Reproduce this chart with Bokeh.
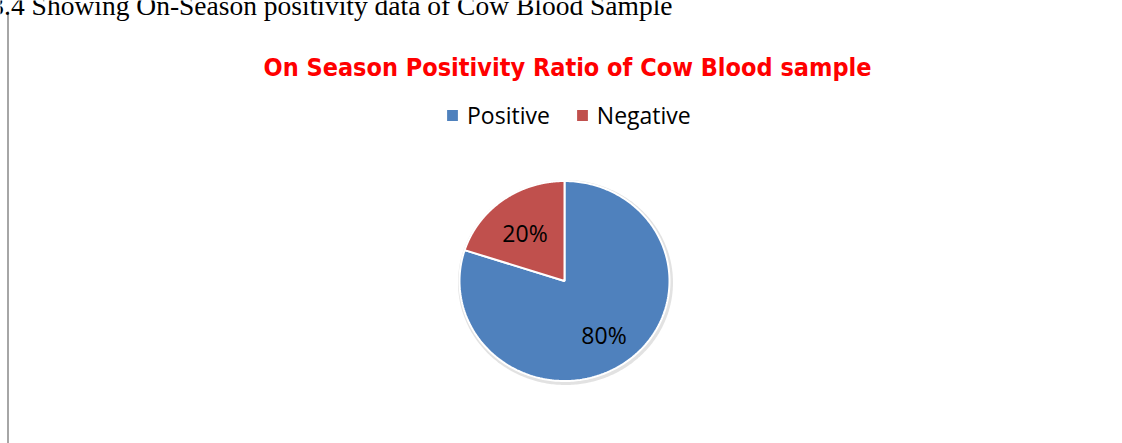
import numpy as np
from bokeh.plotting import figure
from bokeh.models import Range1d, Legend, LegendItem, ColumnDataSource, Label
from bokeh.core.properties import value
from bokeh.embed import file_html
from bokeh.resources import INLINE

# ---- data ----
categories = ["Positive", "Negative"]
percent = [80, 20]
colors = ["#4F81BD", "#C0504D"]
title_text = "On Season Positivity Ratio of Cow Blood sample"
caption_text = "Table 3.4 Showing On-Season positivity data of Cow Blood Sample"

W, H = 1122, 443
p = figure(width=W, height=H, x_range=Range1d(0, W), y_range=Range1d(0, H),
           x_axis_type=None, y_axis_type=None, toolbar_location=None,
           output_backend="svg", min_border=0)
p.grid.visible = False
p.outline_line_color = None
p.background_fill_color = "white"
p.border_fill_color = "white"

# page edge line and caption (cut at the top edge as in the reference)
p.segment(x0=[7.5], y0=[0], x1=[7.5], y1=[H - 11], line_color="#a6a6a6", line_width=2)
p.add_layout(Label(x=672, y=H - 5, text=caption_text, text_align="right",
                   text_baseline="alphabetic", text_font="Liberation Serif",
                   text_font_size="27.5px", text_color="black"))

# title
p.add_layout(Label(x=567, y=H - 67, text=title_text, text_align="center",
                   text_baseline="alphabetic", text_font="DejaVu Sans Condensed",
                   text_font_style="bold", text_font_size="25px", text_color="#FF0000"))

# pie geometry (slightly elliptical like the reference)
cx, cy, rx, ry = 564.0, H - 280.5, 105.0, 100.0
fr = np.array(percent, dtype=float) / sum(percent)
ends = np.pi / 2 - 2 * np.pi * np.cumsum(fr)
starts = ends + 2 * np.pi * fr

# shadow
t = np.linspace(0, 2 * np.pi, 400)
p.patch(cx + 1 + (rx + 2.5) * np.cos(t), cy - 1.5 + (ry + 2.5) * np.sin(t),
        fill_color="#cfcfcf", fill_alpha=0.6, line_color=None)

items = []
for cat, col, s, e in zip(categories, colors, starts, ends):
    a = np.linspace(s, e, 300)
    xs = np.concatenate([[cx], cx + rx * np.cos(a), [cx]])
    ys = np.concatenate([[cy], cy + ry * np.sin(a), [cy]])
    r = p.patch(xs, ys, fill_color=col, line_color="white", line_width=2)
    items.append(LegendItem(label=cat, renderers=[r]))

# labels
mids = (starts + ends) / 2
lab = ColumnDataSource(dict(
    x=cx + 0.64 * rx * np.cos(mids),
    y=cy + 0.63 * ry * np.sin(mids) - 3,
    t=[f"{v}%" for v in percent]))
p.text(x="x", y="y", text="t", source=lab, text_align="center", text_baseline="middle",
       text_font=value("Open Sans"), text_font_size="23px", text_color="black")

legend = Legend(items=items, orientation="horizontal", location=(444, 312),
                glyph_width=16, glyph_height=16, label_standoff=7, spacing=24,
                padding=0, margin=0, border_line_color=None, background_fill_alpha=0,
                label_text_font="Open Sans", label_text_font_size="23px",
                label_text_color="black")
p.add_layout(legend, "center")

html = file_html(p, INLINE)
html = html.replace("<body>", '<body style="margin:0">', 1)
open("out.html", "w").write(html)
